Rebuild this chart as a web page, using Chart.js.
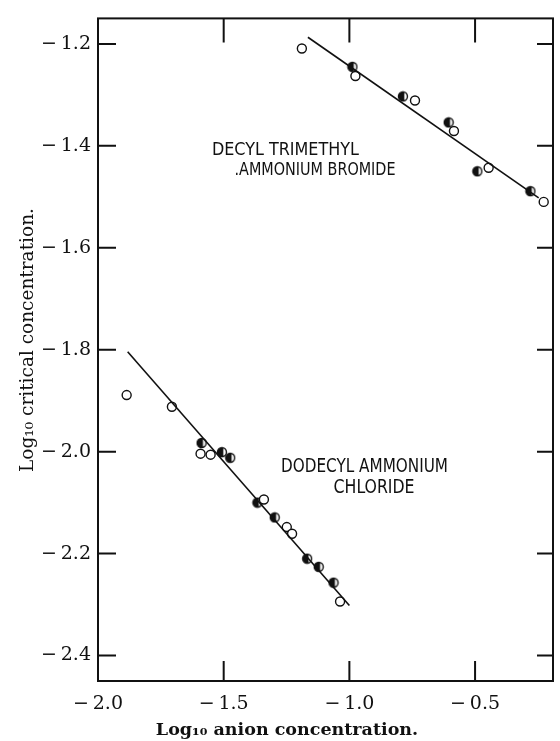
<!DOCTYPE html>
<html>
<head>
<meta charset="utf-8">
<script src="https://cdn.jsdelivr.net/npm/chart.js@4.4.1/dist/chart.umd.min.js"></script>
<style>
html, body { margin: 0; padding: 0; background: #fff; }
#wrap { width: 560px; height: 741px; }
</style>
</head>
<body>
<div id="wrap"><canvas id="cmcChart" width="560" height="741"></canvas></div>
<script>
// 臨界濃度 vs 陰離子濃度（對數）
const decylOpenX = [-1.189, -0.976, -0.739, -0.584, -0.446, -0.227];
const decylOpenY = [-1.209, -1.263, -1.311, -1.371, -1.443, -1.510];
const decylHalfX = [-0.988, -0.787, -0.605, -0.491, -0.280];
const decylHalfY = [-1.245, -1.303, -1.354, -1.450, -1.489];
const decylLineX = [-1.165, -0.247];
const decylLineY = [-1.187, -1.502];

const dodecylOpenX = [-1.886, -1.706, -1.592, -1.552, -1.340, -1.249, -1.228, -1.037];
const dodecylOpenY = [-1.889, -1.912, -2.004, -2.006, -2.094, -2.148, -2.161, -2.294];
const dodecylHalfX = [-1.588, -1.507, -1.474, -1.366, -1.297, -1.168, -1.122, -1.063];
const dodecylHalfY = [-1.983, -2.001, -2.012, -2.100, -2.129, -2.210, -2.226, -2.257];
const dodecylLineX = [-1.882, -1.000];
const dodecylLineY = [-1.804, -2.302];

const xTicks = [-2.0, -1.5, -1.0, -0.5];
const yTicks = [-1.2, -1.4, -1.6, -1.8, -2.0, -2.2, -2.4];
const xRange = [-2.0, -0.19];
const yRange = [-2.45, -1.15];

const xTitle = 'Log\u2081\u2080 anion concentration.';
const yTitle = 'Log\u2081\u2080 critical concentration.';

// 圖中文字標註（數據座標錨點）
const notes = [
    { text: 'DECYL TRIMETHYL', x: -1.547, y: -1.4175, w: 147, size: 18 },
    { text: '.AMMONIUM BROMIDE', x: -1.457, y: -1.458, w: 161, size: 18 },
    { text: 'DODECYL AMMONIUM', x: -1.272, y: -2.039, w: 167, size: 20 },
    { text: 'CHLORIDE', x: -1.063, y: -2.082, w: 81, size: 20 }
];

const INK = '#111';

function pts(xs, ys) {
    return xs.map((x, i) => ({ x: x, y: ys[i] }));
}

function fmt(v) {
    return (v < 0 ? '\u2212\u2009' : '') + Math.abs(v).toFixed(1);
}

// 半實心圓點
function halfDot() {
    const c = document.createElement('canvas');
    c.width = 12; c.height = 12;
    const g = c.getContext('2d');
    g.fillStyle = '#fff';
    g.beginPath(); g.arc(6, 6, 4.5, 0, Math.PI * 2); g.fill();
    g.fillStyle = INK;
    g.beginPath(); g.arc(6, 6, 4.5, Math.PI * 0.4, Math.PI * 1.6); g.fill();
    g.strokeStyle = INK; g.lineWidth = 1.4;
    g.beginPath(); g.arc(6, 6, 4.5, 0, Math.PI * 2); g.stroke();
    return c;
}
const halfImg = halfDot();

const openStyle = {
    type: 'scatter', showLine: false, pointStyle: 'circle', pointRadius: 4.5,
    pointBackgroundColor: '#fff', pointBorderColor: INK, pointBorderWidth: 1.4
};
const halfStyle = {
    type: 'scatter', showLine: false, pointStyle: halfImg, pointRadius: 6
};
const lineStyle = {
    type: 'line', showLine: true, borderColor: INK, borderWidth: 1.6,
    pointRadius: 0, fill: false
};

// 邊框、內向刻度與標註
const framePlugin = {
    id: 'frame',
    afterDraw(chart) {
        const ctx = chart.ctx;
        const a = chart.chartArea;
        const sx = chart.scales.x, sy = chart.scales.y;
        ctx.save();
        ctx.strokeStyle = INK;
        ctx.lineWidth = 2;
        ctx.strokeRect(a.left, a.top, a.right - a.left, a.bottom - a.top);

        ctx.beginPath();
        yTicks.forEach(v => {
            const py = sy.getPixelForValue(v);
            ctx.moveTo(a.left, py); ctx.lineTo(a.left + 18, py);
            ctx.moveTo(a.right, py); ctx.lineTo(a.right - 16, py);
        });
        xTicks.forEach(v => {
            if (v <= xRange[0]) return;
            const px = sx.getPixelForValue(v);
            ctx.moveTo(px, a.bottom); ctx.lineTo(px, a.bottom - 20);
            ctx.moveTo(px, a.top); ctx.lineTo(px, a.top + 24);
        });
        ctx.stroke();

        ctx.fillStyle = INK;
        ctx.textBaseline = 'alphabetic';
        ctx.textAlign = 'left';
        notes.forEach(n => {
            ctx.font = n.size + "px 'DejaVu Sans Condensed', 'DejaVu Sans', sans-serif";
            const m = ctx.measureText(n.text).width;
            const px = sx.getPixelForValue(n.x), py = sy.getPixelForValue(n.y);
            ctx.save();
            ctx.translate(px, py);
            ctx.scale(n.w / m, 1);
            ctx.fillText(n.text, 0, 0);
            ctx.restore();
        });

        ctx.font = "bold 17.5px 'DejaVu Serif', serif";
        ctx.textAlign = 'center';
        ctx.fillText(xTitle, a.left + 189, 735);

        ctx.save();
        ctx.translate(33, 340);
        ctx.rotate(-Math.PI / 2);
        ctx.font = "18.5px 'DejaVu Serif', serif";
        ctx.fillText(yTitle, 0, 0);
        ctx.restore();
        ctx.restore();
    }
};

new Chart(document.getElementById('cmcChart').getContext('2d'), {
    data: {
        datasets: [
            Object.assign({ label: 'decyl line', data: pts(decylLineX, decylLineY) }, lineStyle),
            Object.assign({ label: 'dodecyl line', data: pts(dodecylLineX, dodecylLineY) }, lineStyle),
            Object.assign({ label: 'decyl open', data: pts(decylOpenX, decylOpenY) }, openStyle),
            Object.assign({ label: 'decyl half', data: pts(decylHalfX, decylHalfY) }, halfStyle),
            Object.assign({ label: 'dodecyl open', data: pts(dodecylOpenX, dodecylOpenY) }, openStyle),
            Object.assign({ label: 'dodecyl half', data: pts(dodecylHalfX, dodecylHalfY) }, halfStyle)
        ]
    },
    options: {
        responsive: false,
        animation: false,
        layout: { padding: { top: 11, right: 2, left: 0, bottom: 0 } },
        plugins: {
            legend: { display: false },
            tooltip: { enabled: false }
        },
        scales: {
            x: {
                type: 'linear',
                min: xRange[0], max: xRange[1],
                grid: { display: false, drawTicks: false },
                border: { display: false },
                afterBuildTicks: s => { s.ticks = xTicks.map(v => ({ value: v })); },
                afterFit: s => { s.height = 60; },
                ticks: {
                    color: INK, padding: 12,
                    font: { family: "'DejaVu Serif', serif", size: 19 },
                    callback: v => fmt(v)
                }
            },
            y: {
                type: 'linear',
                min: yRange[0], max: yRange[1],
                grid: { display: false, drawTicks: false },
                border: { display: false },
                afterBuildTicks: s => { s.ticks = yTicks.map(v => ({ value: v })); },
                afterFit: s => { s.width = 98; },
                ticks: {
                    color: INK, padding: 7,
                    font: { family: "'DejaVu Serif', serif", size: 19 },
                    callback: v => fmt(v)
                }
            }
        }
    },
    plugins: [framePlugin]
});
</script>
</body>
</html>
